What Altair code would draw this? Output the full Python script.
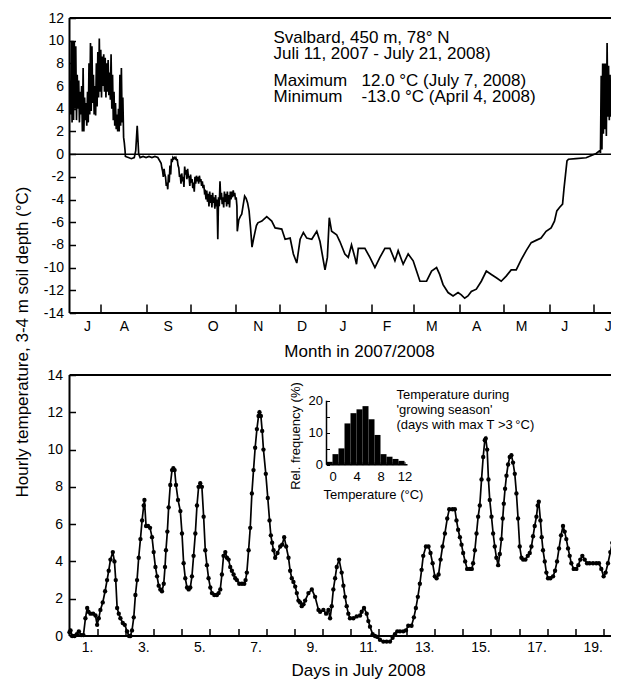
import altair as alt
import pandas as pd

FONT = "Liberation Sans"
W, H_TOP, H_BOT = 549, 295, 261

# ---------------- top panel: soil temperature, days since 11 July 2007 ----------------
summer07_max = [6.5, 10.0, 10.0, 9.9, 9.5, 7.0, 6.5, 5.5, 6.0, 7.6, 5.0, 4.5, 5.5, 8.0, 9.8, 9.5, 7.0,
                6.0, 8.0, 9.0, 10.2, 9.2, 8.6, 8.8, 8.5, 8.0, 8.3, 7.2, 8.8, 7.0, 5.5, 4.5, 3.5, 4.0,
                7.0, 7.6, 5.0, 1.0]
summer07_min = [3.5, 2.8, 3.0, 4.0, 3.0, 4.0, 2.8, 3.5, 2.0, 2.0, 3.0, 2.5, 2.8, 3.5, 3.8, 4.5, 3.5,
                3.4, 4.2, 5.0, 5.5, 5.0, 6.0, 5.5, 5.0, 5.5, 5.2, 4.8, 4.0, 3.0, 2.5, 2.2, 2.0, 2.0,
                2.5, 2.8, 1.5, 0.3]
early_autumn07 = [(38, -0.2), (40, -0.3), (42, -0.4), (44, -0.3), (45, 0.3), (46, 2.5), (47, 0.0), (48, -0.3),
                  (50, -0.2), (52, -0.3), (54, -0.2), (56, -0.3), (58, -0.2), (60, -0.3)]
autumn07_first_day = 62
autumn07_max = [-0.8, -1.5, -1.3, -2.0, -2.5, -1.8, -1.0, -0.4, -0.3, -0.3, -0.3, -0.5, -1.2, -1.8, -1.7,
                -2.0, -1.1, -1.4, -1.3, -2.0, -1.8, -2.2, -2.5, -2.0, -1.9, -2.0, -1.9, -2.2, -2.4, -2.7,
                -3.3, -3.2, -3.5, -3.3, -3.6, -3.4, -3.8, -3.6, -4.0, -3.8, -2.4, -3.4, -3.8, -3.3, -3.5,
                -3.3, -3.6, -3.3, -3.3, -3.2, -3.4, -3.8]
autumn07_min = [-1.2, -2.0, -1.8, -2.8, -3.1, -2.5, -1.8, -0.7, -0.4, -0.4, -0.5, -1.0, -2.0, -2.6, -2.4,
                -2.9, -1.8, -2.2, -2.0, -2.8, -2.5, -3.0, -3.3, -2.6, -2.4, -2.6, -2.4, -2.8, -3.0, -3.4,
                -4.0, -4.2, -4.6, -4.3, -4.7, -4.3, -4.8, -4.6, -7.5, -4.6, -4.0, -4.4, -4.7, -4.2, -4.6,
                -4.4, -4.7, -4.0, -3.8, -3.7, -4.0, -4.6]
late_autumn07 = [(114, -6.8), (115, -5.8), (116, -5.5), (117, -5.3), (118, -4.5), (119, -3.7), (120, -3.9),
                 (121, -4.3), (122, -5.0), (123, -6.5), (124, -8.2), (125, -7.5), (126, -6.9), (127, -6.3)]
winter08 = [(128, -6.05), (130.7, -5.9), (134, -5.5), (137.4, -5.9), (139.7, -6.5), (144.2, -6.6),
            (146.5, -7.5), (149.9, -7.4), (152.1, -8.8), (154.4, -9.6), (156.7, -7.5), (158.9, -6.9),
            (161.2, -7.4), (164.6, -7.5), (168, -6.8), (170.2, -7.7), (172.5, -9.4), (173.6, -10.2),
            (175.2, -9.1), (176.5, -5.6), (178.1, -6.8), (181.5, -7.1), (183.7, -7.7), (187.1, -8.8),
            (189.4, -9.1), (191.6, -8.0), (193.9, -9.1), (195, -9.7), (196.2, -8.3), (200.7, -8.3),
            (204.1, -9.1), (207.5, -10.0), (210.9, -9.1), (214.3, -8.3), (217.7, -8.3), (221.1, -9.4),
            (223.3, -8.5), (226.7, -9.7), (230.1, -8.8), (233.5, -9.4), (235.8, -10.3), (238.1, -11.2),
            (242.6, -11.2), (246, -10.3), (249.4, -10.0), (251.5, -10.6), (253.8, -11.5), (257.2, -12.2),
            (260.6, -12.5), (264, -12.2), (266.2, -12.4), (268.5, -12.7), (270.7, -12.5), (273, -12.1),
            (276.4, -11.9), (279.8, -11.2), (283.2, -10.3), (286.6, -10.6), (290, -10.9), (293.3, -11.2),
            (296.7, -10.75), (300.1, -10.2), (303.5, -10.2), (306.9, -9.3), (310.3, -8.5), (313.7, -7.8),
            (317, -7.6), (320.4, -7.4), (323.8, -6.8), (327.2, -6.5), (329.5, -5.9), (331.1, -5.0),
            (332.9, -4.7), (335, -4.4), (336, -3.0), (337, -1.8), (338, -0.6), (339, -0.45), (344, -0.4),
            (351, -0.32), (357.8, 0.06)]
summer08_first_day = 360
summer08_max = [0.3, 6.9, 8.0, 8.0, 8.0, 9.8, 7.8, 7.0, 4.5, 4.5, 0.3, 6.6, 6.6, 8.0]
summer08_min = [0.1, 0.4, 1.8, 2.2, 1.6, 3.3, 3.0, 3.3, 1.6, 1.5, 0.0, 0.2, 3.3, 3.5]

month_tick_days = [21, 52, 82, 113, 143, 174, 205, 234, 265, 295, 326, 356]
month_label_days = [12.2, 37.3, 67.1, 97.7, 128.2, 158, 185.8, 215.7, 246.2, 276.7, 307.2, 336.4, 366]
month_letters = ["J", "A", "S", "O", "N", "D", "J", "F", "M", "A", "M", "J", "J"]
top_y_ticks = [-14, -12, -10, -8, -6, -4, -2, 0, 2, 4, 6, 8, 10, 12]
top_frame_temps = [12, -14]      # top and bottom edges of the upper frame
top_zero_temp = [0]
top_left_day = [0]

# ---------------- bottom panel: hourly temperature, hours since 1 July 2008 00:00 ----------------
jul01_05 = [(0.0, 0.2), (0.9, 0.3), (2.3, 0.0), (4.3, 0.0), (6.3, 0.1), (8.0, 0.25), (10.0, 0.05), (11.9, 0.05),
            (13.6, 0.95), (15.1, 1.5), (16.2, 1.3), (17.9, 1.2), (20.2, 1.2), (22.2, 1.1), (23.6, 0.6),
            (25.0, 0.95), (26.4, 1.4), (28.4, 1.8), (30.4, 2.4), (32.1, 3.0), (33.5, 3.5), (35.0, 4.1),
            (37.0, 4.5), (38.4, 4.0), (39.5, 3.0), (40.7, 1.5), (42.1, 1.2), (43.5, 0.95), (45.5, 0.7),
            (47.2, 0.6), (49.2, 0.25), (50.9, 0.0), (52.0, 0.0), (53.4, 0.3), (54.9, 1.0), (56.3, 2.2),
            (57.7, 3.0), (59.1, 4.2), (60.6, 5.2), (62.0, 6.2), (63.4, 7.0), (64.0, 7.3), (65.4, 5.9),
            (67.1, 5.9), (68.8, 5.8), (70.5, 5.3), (71.9, 4.5), (73.4, 3.7), (74.8, 3.2), (76.2, 2.7),
            (77.6, 2.5), (79.0, 2.4), (80.5, 2.8), (81.6, 3.7), (82.4, 4.6), (83.6, 5.6), (84.7, 6.9),
            (86.1, 8.1), (87.6, 8.9), (88.7, 9.0), (89.8, 8.9), (91.0, 8.1), (92.7, 7.3), (94.7, 6.7),
            (96.1, 5.5), (97.5, 3.9), (98.9, 3.1), (100.4, 2.6), (101.8, 2.5), (103.2, 2.6), (104.6, 3.2),
            (106.0, 4.3), (107.5, 5.5), (108.9, 7.0), (110.3, 8.0), (111.7, 8.2), (113.1, 8.0), (114.6, 6.4),
            (116.0, 4.6), (117.4, 3.8), (118.8, 3.1)]
jul06_10 = [(120.3, 2.6), (121.7, 2.3), (123.7, 2.2), (125.9, 2.2), (127.4, 2.3), (128.8, 2.5), (130.2, 3.3),
            (131.6, 4.3), (133.1, 4.5), (134.5, 4.2), (135.9, 4.1), (137.3, 3.7), (138.7, 3.5), (140.2, 3.3),
            (141.6, 3.1), (143.0, 3.0), (145.0, 2.8), (147.3, 2.8), (149.3, 2.8), (150.4, 3.0), (151.5, 3.4),
            (153.0, 4.6), (154.4, 5.8), (155.8, 7.65), (157.2, 8.9), (158.6, 10.1), (160.1, 11.1),
            (161.5, 11.8), (162.3, 12.0), (163.5, 11.8), (164.6, 11.0), (165.7, 10.0), (167.7, 8.7),
            (169.4, 7.4), (170.9, 6.2), (172.0, 5.4), (173.1, 5.0), (174.3, 4.6), (175.7, 4.2), (177.7, 4.45),
            (180.0, 4.8), (181.7, 4.9), (183.4, 5.3), (185.1, 4.8), (187.1, 4.2), (188.5, 3.5), (189.9, 3.1),
            (191.3, 2.9), (192.8, 2.65), (194.2, 2.3), (195.6, 1.9), (197.0, 1.8), (198.4, 1.6), (199.9, 1.7),
            (201.3, 1.9), (204.1, 2.3), (207.0, 2.5), (209.8, 2.1), (212.7, 1.4), (214.1, 1.3), (216.9, 1.4),
            (219.2, 1.2), (221.2, 1.4), (222.6, 0.95), (224.0, 1.6), (225.4, 2.5), (226.9, 3.1), (228.3, 3.7),
            (230.3, 4.1), (232.5, 3.4), (234.0, 2.7), (235.4, 2.1), (236.8, 1.6), (238.2, 1.2)]
jul11_15 = [(239.6, 0.95), (242.5, 0.95), (245.3, 1.05), (248.2, 1.1), (249.6, 1.3), (251.6, 1.5), (253.9, 1.2),
            (255.3, 0.8), (256.7, 0.5), (259.0, 0.1), (261.0, 0.0), (263.0, -0.05), (265.2, -0.2), (268.1, -0.3),
            (270.9, -0.3), (273.8, -0.3), (276.0, -0.1), (278.0, 0.1), (280.0, 0.25), (282.3, 0.25),
            (285.1, 0.25), (287.4, 0.3), (289.4, 0.55), (292.2, 0.55), (294.2, 1.0), (295.9, 1.5), (297.6, 2.1),
            (299.3, 2.8), (300.8, 3.55), (302.2, 4.3), (304.5, 4.8), (306.7, 4.8), (308.4, 4.45), (310.2, 3.9),
            (312.1, 3.2), (313.6, 3.1), (315.3, 3.3), (317.0, 4.1), (318.7, 4.8), (320.7, 5.5), (322.7, 6.3),
            (324.4, 6.8), (327.2, 6.8), (329.2, 6.8), (330.6, 6.2), (332.0, 5.7), (333.5, 5.3), (334.9, 4.9),
            (336.3, 4.45), (338.0, 4.0), (339.7, 3.6), (342.0, 3.6), (343.7, 3.6), (344.8, 3.9), (346.3, 4.6),
            (347.7, 5.5), (349.1, 6.4), (350.5, 7.0), (352.0, 8.4), (353.4, 9.6), (354.8, 10.5), (355.6, 10.6),
            (356.8, 10.0), (357.9, 8.4)]
jul16_20 = [(359.0, 7.3), (360.5, 6.4), (361.9, 5.5), (363.3, 4.8), (364.7, 4.2), (366.2, 3.8), (367.6, 4.4),
            (369.0, 5.2), (370.1, 6.3), (371.0, 7.1), (372.1, 7.9), (373.3, 8.6), (374.7, 9.2), (376.1, 9.6),
            (377.5, 9.7), (378.9, 9.3), (380.4, 8.7), (381.8, 7.65), (383.2, 6.3), (384.6, 4.8), (386.1, 4.2),
            (387.5, 4.1), (389.5, 4.1), (391.5, 4.3), (393.2, 4.45), (394.6, 4.8), (396.0, 5.35), (397.4, 5.9),
            (398.9, 6.4), (400.0, 7.0), (400.9, 7.2), (402.3, 6.2), (403.4, 5.3), (404.5, 4.6), (406.0, 4.0),
            (407.4, 3.4), (408.8, 3.1), (410.8, 3.1), (413.1, 3.2), (414.8, 3.5), (416.5, 4.0), (418.2, 4.7),
            (419.9, 5.4), (421.6, 5.9), (423.0, 5.6), (424.4, 5.2), (425.9, 4.7), (427.3, 4.3), (428.7, 3.9),
            (430.7, 3.6), (433.0, 3.6), (434.7, 3.8), (436.4, 4.1), (438.1, 4.3), (440.1, 4.1), (442.1, 3.9),
            (444.3, 3.9), (447.2, 3.9), (450.0, 3.9), (452.3, 3.9), (454.3, 3.6), (456.3, 3.2), (458.0, 3.4),
            (460.0, 3.9), (462.0, 4.5), (463.7, 5.0), (465.7, 5.25), (467.1, 5.0), (468.5, 4.6)]

day_tick_hours = [24, 48, 72, 96, 120, 144, 168, 192, 216, 240, 264, 288, 312, 336, 360, 384, 408, 432, 456]
day_label_hours = [12, 60, 108, 156, 204, 252, 300, 348, 396, 444]
day_labels = ["1.", "3.", "5.", "7.", "9.", "11.", "13.", "15.", "17.", "19."]
bot_y_ticks = [0, 2, 4, 6, 8, 10, 12, 14]
bot_frame_temps = [14, 0]
bot_left_hour = [0]

# ---------------- inset histogram ----------------
hist_lo = [-1, 0, 1, 2, 3, 4, 5, 6, 7, 8, 9, 10, 11]
hist_hi = [0, 1, 2, 3, 4, 5, 6, 7, 8, 9, 10, 11, 12]
hist_freq = [0.9, 3.3, 5.1, 12.9, 16.1, 17.3, 18.3, 14.2, 9.3, 3.3, 2.5, 1.8, 1.2]
inset_x_ticks = [-1, 0, 1, 2, 3, 4, 5, 6, 7, 8, 9, 10, 11, 12]
inset_y_ticks = [0, 5, 10, 15, 20]
inset_x_extent = [-1, 12.5]
inset_y_extent = [0, 20]


def one():
    return alt.Data(values=[{"k": 0}])


def label(txt, x, y, size, align="left", angle=0, line_height=None):
    kw = dict(text=txt, font=FONT, fontSize=size, align=align, baseline="middle", color="black")
    if angle:
        kw["angle"] = angle
    if line_height:
        kw["lineHeight"] = line_height
    return alt.Chart(one()).mark_text(**kw).encode(x=alt.value(x), y=alt.value(y))


def ax(**kw):
    base = dict(domain=False, grid=False, tickColor="black", tickWidth=1.5, labelFont=FONT,
                labelColor="black", title=None, labelFlush=False, labelOverlap=False, labelBound=False)
    base.update(kw)
    return alt.Axis(**base)


def zigzag(first_day, highs, lows):
    out = []
    for i, (hi, lo) in enumerate(zip(highs, lows)):
        out += [{"day": first_day + i + 0.25, "temp": hi}, {"day": first_day + i + 0.75, "temp": lo}]
    return out


# ---------------- top chart ----------------
rows = zigzag(0, summer07_max, summer07_min)
rows += [{"day": d, "temp": t} for d, t in early_autumn07]
rows += zigzag(autumn07_first_day, autumn07_max, autumn07_min)
rows += [{"day": d, "temp": t} for d, t in late_autumn07 + winter08]
rows += zigzag(summer08_first_day, summer08_max, summer08_min)
top_df = pd.DataFrame(rows)

x_top = alt.X("day:Q", scale=alt.Scale(domain=[0, 373], nice=False, zero=False),
              axis=ax(values=month_tick_days, labels=False, tickSize=9, offset=-9))
y_top = alt.Y("temp:Q", scale=alt.Scale(domain=[-14, 12], nice=False, zero=False),
              axis=ax(values=top_y_ticks, tickSize=6, offset=-6, labelPadding=6, labelFontSize=14,
                      labelExpr="toString(datum.value)"))

top_line = alt.Chart(top_df).mark_line(color="black", strokeWidth=1.7, clip=True).encode(x=x_top, y=y_top)
top_frame = alt.Chart(pd.DataFrame({"temp": top_frame_temps})).mark_rule(color="black", strokeWidth=2).encode(
    y=y_top)
top_zero = alt.Chart(pd.DataFrame({"temp": top_zero_temp})).mark_rule(color="black", strokeWidth=1.5).encode(
    y=y_top)
top_left = alt.Chart(pd.DataFrame({"day": top_left_day})).mark_rule(color="black", strokeWidth=2).encode(
    x=x_top)

month_df = pd.DataFrame({"day": month_label_days, "letter": month_letters})
month_text = alt.Chart(month_df).mark_text(font=FONT, fontSize=14, color="black", baseline="middle").encode(
    x=x_top, y=alt.value(H_TOP + 14), text="letter:N")

top = alt.layer(
    top_line, top_frame, top_zero, top_left, month_text,
    label(["Svalbard, 450 m, 78\u00b0 N", "Juli 11, 2007 - July 21, 2008)"], 204, 20, 17, line_height=16),
    label(["Maximum", "Minimum"], 204, 63, 17, line_height=16),
    label([" 12.0 \u00b0C (July 7, 2008)", "-13.0 \u00b0C (April 4, 2008)"], 292, 63, 17, line_height=16),
    label("Month in 2007/2008", 290, 334, 17, align="center"),
    label("Hourly temperature, 3-4 m soil depth (\u00b0C)", -47, 324, 17, align="center", angle=270),
).properties(width=W, height=H_TOP)

# ---------------- bottom chart ----------------
bot_df = pd.DataFrame(jul01_05 + jul06_10 + jul11_15 + jul16_20, columns=["hour", "temp"])
x_bot = alt.X("hour:Q", scale=alt.Scale(domain=[0, 469], nice=False, zero=False),
              axis=ax(values=day_tick_hours, labels=False, tickSize=7.5, offset=-7.5))
y_bot = alt.Y("temp:Q", scale=alt.Scale(domain=[0, 14], nice=False, zero=False),
              axis=ax(values=bot_y_ticks, tickSize=6, offset=-6, labelPadding=7, labelFontSize=14,
                      labelExpr="toString(datum.value)"))

bot_line = alt.Chart(bot_df).mark_line(
    color="black", strokeWidth=1.7,
    point=alt.OverlayMarkDef(filled=True, size=19, color="black")).encode(x=x_bot, y=y_bot)
bot_frame = alt.Chart(pd.DataFrame({"temp": bot_frame_temps})).mark_rule(color="black", strokeWidth=2).encode(
    y=y_bot)
bot_left = alt.Chart(pd.DataFrame({"hour": bot_left_hour})).mark_rule(color="black", strokeWidth=2).encode(
    x=x_bot)

day_df = pd.DataFrame({"hour": day_label_hours, "lab": day_labels})
day_text = alt.Chart(day_df).mark_text(font=FONT, fontSize=14, color="black", baseline="middle", dx=4).encode(
    x=x_bot, y=alt.value(H_BOT + 12), text="lab:N")

main_bot = alt.layer(
    bot_line, bot_frame, bot_left, day_text,
    label("Days in July 2008", 289, 296, 17, align="center"),
    label(["Temperature during", "'growing season'", "(days with max T >3\u2009\u00b0C)"], 327, 20, 13,
          line_height=15),
    label("Rel. frequency (%)", 226, 61, 13, align="center", angle=270),
    label("Temperature (\u00b0C)", 304, 120, 13, align="center"),
)

inset_x = alt.X("lo:Q", scale=alt.Scale(domain=inset_x_extent, range=[257, 338], nice=False, zero=False),
                axis=ax(orient="bottom", values=inset_x_ticks, tickSize=3, offset=-(H_BOT - 89.7) - 3,
                        tickWidth=1, labelPadding=6, labelFontSize=13,
                        labelExpr="datum.value % 4 == 0 ? toString(datum.value) : ''"))
inset_y = alt.Y("freq:Q", scale=alt.Scale(domain=inset_y_extent, range=[89.7, 25.7], nice=False, zero=False),
                axis=ax(orient="left", values=inset_y_ticks, tickSize=3, offset=-257 - 3, tickWidth=1,
                        labelPadding=4, labelFontSize=13,
                        labelExpr="datum.value % 10 == 0 ? toString(datum.value) : ''"))

hist_df = pd.DataFrame({"lo": hist_lo, "hi": hist_hi, "freq": hist_freq})
inset_bars = alt.Chart(hist_df).mark_rect(color="black").encode(
    x=inset_x, x2="hi:Q", y=inset_y, y2=alt.datum(0))
inset_left = alt.Chart(pd.DataFrame({"lo": [inset_x_extent[0]], "freq": [inset_y_extent[0]],
                                     "top": [inset_y_extent[1]]})).mark_rule(
    color="black", strokeWidth=1.5).encode(x=inset_x, y=inset_y, y2="top:Q")
inset_bottom = alt.Chart(pd.DataFrame({"lo": [inset_x_extent[0]], "right": [inset_x_extent[1]],
                                       "freq": [inset_y_extent[0]]})).mark_rule(
    color="black", strokeWidth=1.5).encode(x=inset_x, x2="right:Q", y=inset_y)
inset = alt.layer(inset_bars, inset_left, inset_bottom)

bottom = alt.layer(main_bot, inset).resolve_scale(x="independent", y="independent").properties(
    width=W, height=H_BOT)

chart = alt.vconcat(top, bottom, spacing=62, bounds="flush").properties(
    padding={"left": 5.5, "top": 3, "right": -11, "bottom": 0}
).configure_view(stroke=None).configure_text(font=FONT).configure_axis(labelOverlap=False)

chart.save("out.html", embed_options={"renderer": "svg", "actions": False})
